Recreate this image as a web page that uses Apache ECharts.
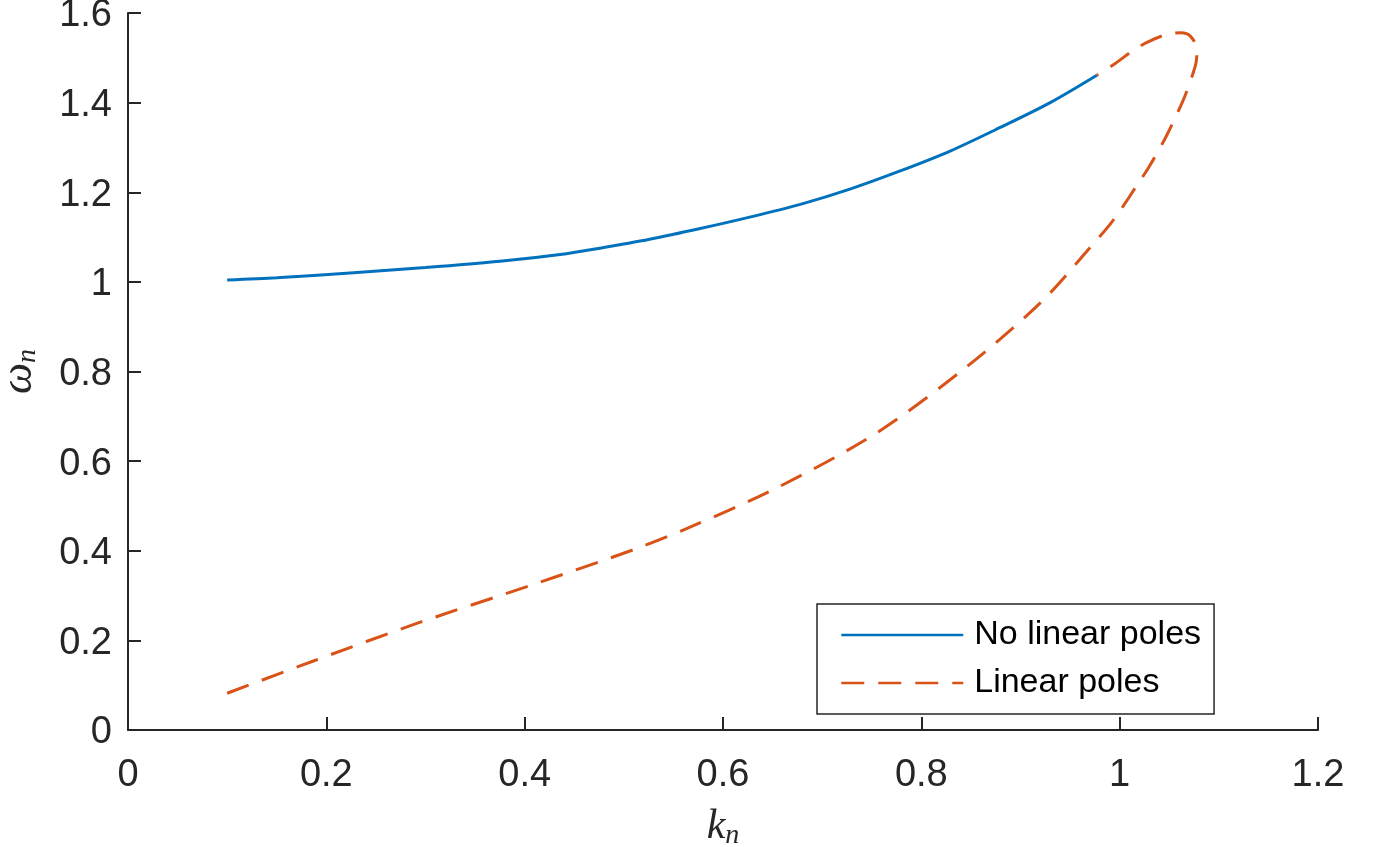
<!DOCTYPE html>
<html>
<head>
<meta charset="utf-8">
<script src="https://cdn.jsdelivr.net/npm/echarts@6/dist/echarts.min.js"></script>
<style>
html,body{margin:0;padding:0;background:#fff;}
#chart{width:1377px;height:847px;}
</style>
</head>
<body>
<div id="chart"></div>
<script>
// Data: [k_n, omega_n]
const noLinearPoles = [
  [0.100, 1.004], [0.150, 1.009], [0.224, 1.020], [0.300, 1.032], [0.375, 1.046],
  [0.442, 1.063], [0.476, 1.075], [0.526, 1.095], [0.577, 1.119], [0.628, 1.145],
  [0.678, 1.173], [0.728, 1.207], [0.778, 1.247], [0.829, 1.292], [0.879, 1.344],
  [0.930, 1.400], [0.977, 1.461]
];
const linearPoles = [
  [0.100, 0.082], [0.187, 0.154], [0.294, 0.240], [0.405, 0.322], [0.513, 0.405],
  [0.565, 0.451], [0.654, 0.540], [0.755, 0.663], [0.846, 0.811], [0.920, 0.953],
  [0.970, 1.076], [0.994, 1.139], [1.017, 1.214], [1.030, 1.258], [1.047, 1.325],
  [1.064, 1.405], [1.073, 1.459], [1.077, 1.489], [1.078, 1.519], [1.071, 1.549],
  [1.062, 1.556], [1.047, 1.552], [1.027, 1.534], [1.012, 1.514], [0.994, 1.485],
  [0.977, 1.461]
];
const seriesNames = ['No linear poles', 'Linear poles'];
const xTicks = {min: 0, max: 1.2, interval: 0.2};
const yTicks = {min: 0, max: 1.6, interval: 0.2};

const axisColor = '#262626';
const chart = echarts.init(document.getElementById('chart'), null, {renderer: 'canvas'});
const axisCommon = {
  type: 'value',
  axisLine: {show: true, onZero: false, lineStyle: {color: axisColor, width: 2}},
  axisTick: {show: true, inside: true, length: 13, lineStyle: {color: axisColor, width: 2}},
  splitLine: {show: false},
  axisLabel: {color: axisColor, fontFamily: 'Liberation Sans', fontSize: 38}
};
chart.setOption({
  backgroundColor: '#ffffff',
  animation: false,
  grid: {left: 128, right: 59, top: 13, bottom: 117, containLabel: false, outerBoundsMode: 'none'},
  xAxis: Object.assign({}, axisCommon, {
    min: xTicks.min, max: xTicks.max, interval: xTicks.interval,
    axisLabel: Object.assign({}, axisCommon.axisLabel, {margin: 27}),
    name: '{k|k}{s|n}',
    nameLocation: 'middle',
    nameGap: 74,
    nameTextStyle: {
      rich: {
        k: {fontFamily: 'Liberation Serif', fontStyle: 'italic', fontSize: 42, color: axisColor, lineHeight: 46},
        s: {fontFamily: 'Liberation Serif', fontStyle: 'italic', fontSize: 28, color: axisColor, verticalAlign: 'bottom'}
      }
    }
  }),
  yAxis: Object.assign({}, axisCommon, {
    min: yTicks.min, max: yTicks.max, interval: yTicks.interval,
    axisLabel: Object.assign({}, axisCommon.axisLabel, {margin: 16, verticalAlign: 'top', lineHeight: 6}),
    name: '{w|ω}{s|n}',
    nameLocation: 'middle',
    nameRotate: 90,
    nameGap: 86,
    nameTextStyle: {
      rich: {
        w: {fontFamily: 'Liberation Serif', fontStyle: 'italic', fontSize: 44, color: axisColor, lineHeight: 46},
        s: {fontFamily: 'Liberation Serif', fontStyle: 'italic', fontSize: 28, color: axisColor, verticalAlign: 'bottom'}
      }
    }
  }),
  legend: {
    orient: 'vertical',
    left: 817, top: 604,
    padding: [11, 13, 11, 23],
    itemWidth: 122, itemHeight: 20, itemGap: 8,
    borderColor: axisColor, borderWidth: 1.5,
    backgroundColor: '#ffffff',
    selectedMode: false,
    itemStyle: {opacity: 0},
    lineStyle: {width: 2.5},
    textStyle: {fontFamily: 'Liberation Sans', fontSize: 34, lineHeight: 40, color: '#000', padding: [0, 0, 0, 6]},
    data: seriesNames
  },
  series: [
    {
      name: seriesNames[0], type: 'line', data: noLinearPoles, symbol: 'none', smooth: 0.3,
      lineStyle: {color: '#0072BD', width: 3}, itemStyle: {color: '#0072BD'}
    },
    {
      name: seriesNames[1], type: 'line', data: linearPoles, symbol: 'none', smooth: 0.3,
      lineStyle: {color: '#D95319', width: 3, type: [23, 14]}, itemStyle: {color: '#D95319'}
    }
  ]
});
</script>
</body>
</html>
